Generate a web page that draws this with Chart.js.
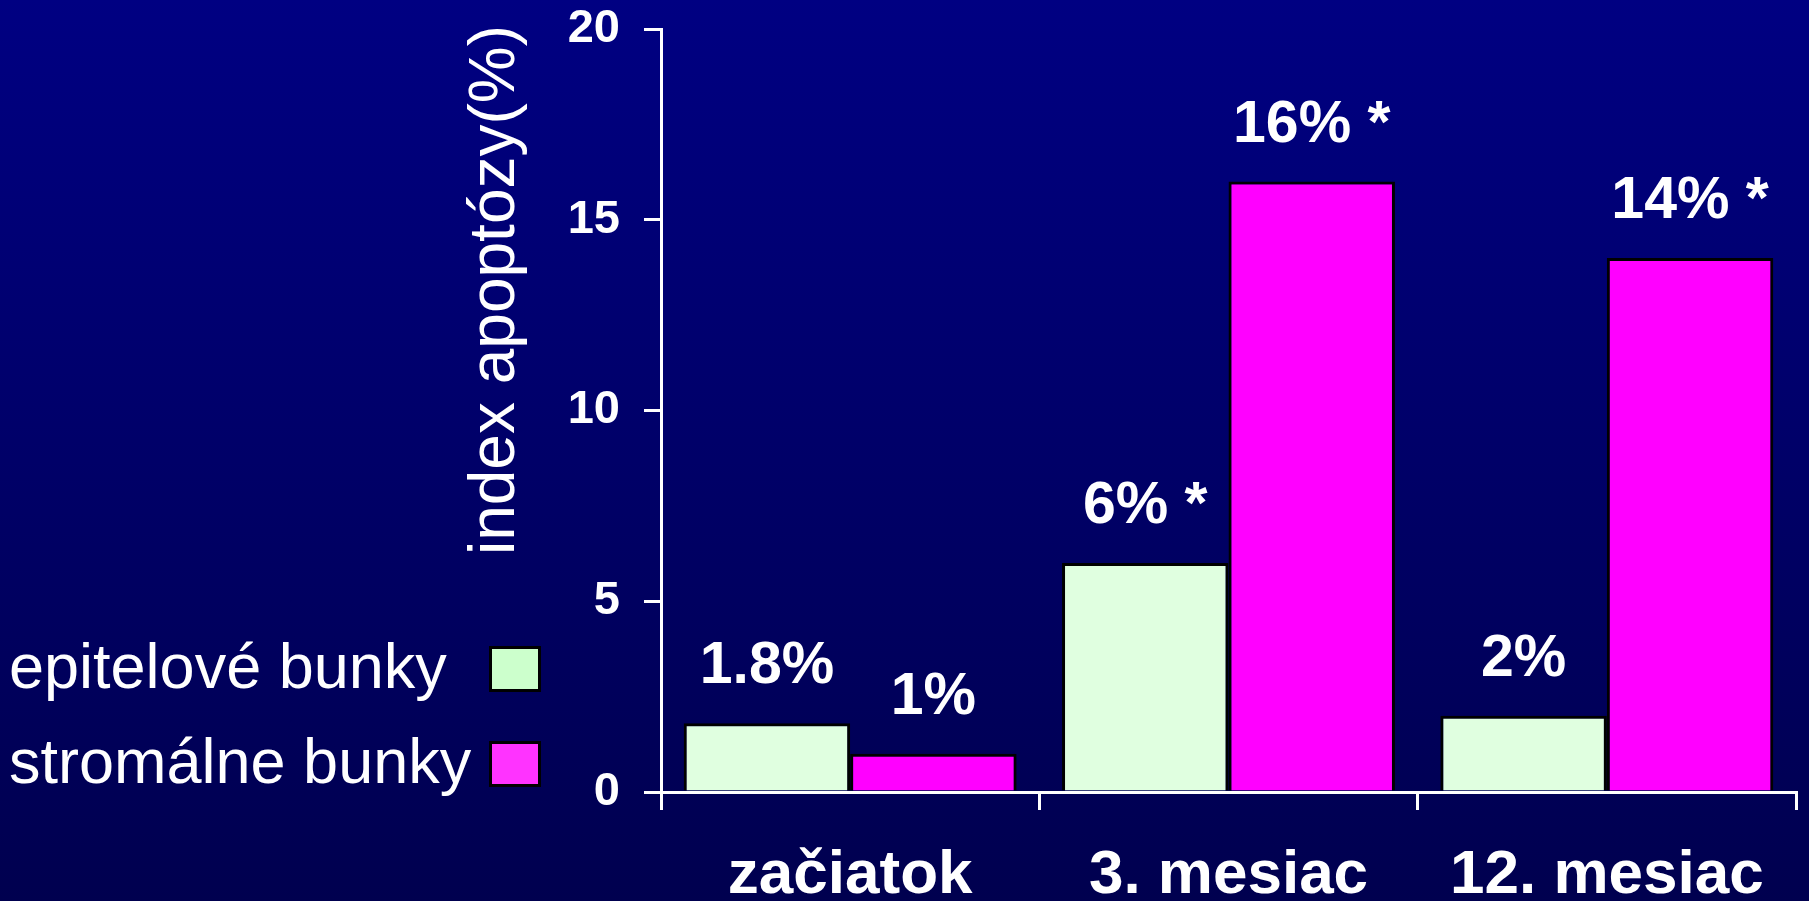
<!DOCTYPE html>
<html>
<head>
<meta charset="utf-8">
<script src="https://cdn.jsdelivr.net/npm/chart.js@4/dist/chart.umd.min.js"></script>
<style>
  html, body { margin: 0; padding: 0; }
  #wrap {
    width: 1809px;
    height: 901px;
    background: linear-gradient(to bottom, #000082, #00004f);
  }
</style>
</head>
<body>
<div id="wrap"><canvas id="myChart"></canvas></div>
<script>
// data
const categories = ['začiatok', '3. mesiac', '12. mesiac'];
const seriesNames = ['epitelové bunky', 'stromálne bunky'];
const epitelove = [1.8, 6, 2];
const stromalne = [1, 16, 14];
// significant differences get an asterisk after the value
const epitelSig = [false, true, false];
const stromaSig = [false, true, true];
const yMax = 20;
const yStep = 5;
const axisTitle = 'index apoptózy(%)';

const FONT = '"Liberation Sans", Arial, Helvetica, sans-serif';

function valueLabels(values, sig) {
    return values.map((v, i) => v + '%' + (sig[i] ? ' *' : ''));
}

// labels above bars, rotated axis title and the legend on the left
const decor = {
    id: 'decor',
    afterDatasetsDraw(chart) {
        const ctx = chart.ctx;
        ctx.save();
        ctx.fillStyle = '#ffffff';
        ctx.font = 'bold 59px ' + FONT;
        ctx.textAlign = 'center';
        ctx.textBaseline = 'alphabetic';
        chart.data.datasets.forEach((ds, i) => {
            chart.getDatasetMeta(i).data.forEach((bar, j) => {
                ctx.fillText(ds.valueLabels[j], bar.x, bar.y - 40);
            });
        });
        ctx.restore();
    },
    afterDraw(chart) {
        const ctx = chart.ctx;
        ctx.save();
        ctx.fillStyle = '#ffffff';
        ctx.font = '64px ' + FONT;
        ctx.textAlign = 'center';
        ctx.textBaseline = 'alphabetic';
        ctx.translate(514, 290);
        ctx.rotate(-Math.PI / 2);
        ctx.fillText(axisTitle, 0, 0);
        ctx.restore();

        ctx.save();
        ctx.font = '63px ' + FONT;
        ctx.textAlign = 'left';
        ctx.textBaseline = 'alphabetic';
        chart.data.datasets.forEach((ds, i) => {
            const base = 688 + i * 95;
            ctx.fillStyle = '#ffffff';
            ctx.fillText(ds.label, 9, base);
            ctx.fillStyle = ds.legendColor;
            ctx.fillRect(490, base - 42, 50, 45);
            ctx.lineWidth = 3;
            ctx.strokeStyle = '#000000';
            ctx.strokeRect(490.5, base - 40.5, 49, 43);
        });
        ctx.restore();
    }
};

var ctx = document.getElementById('myChart').getContext('2d');
var chart = new Chart(ctx, {
    type: 'bar',
    data: {
        labels: categories,
        datasets: [{
                label: seriesNames[0],
                data: epitelove,
                valueLabels: valueLabels(epitelove, epitelSig),
                backgroundColor: '#e0ffe0',
                legendColor: '#ccffcc',
                borderColor: '#000000',
                borderWidth: 3,
                borderSkipped: 'bottom'
            },
            {
                label: seriesNames[1],
                data: stromalne,
                valueLabels: valueLabels(stromalne, stromaSig),
                backgroundColor: '#ff00ff',
                legendColor: '#ff33ff',
                borderColor: '#000000',
                borderWidth: 3,
                borderSkipped: 'bottom'
            }
        ]
    },
    options: {
        responsive: true,
        maintainAspectRatio: false,
        animation: false,
        layout: {
            padding: { left: 0, right: 13, top: 29, bottom: 0 }
        },
        datasets: {
            bar: {
                categoryPercentage: 0.88,
                barPercentage: 1.0
            }
        },
        plugins: {
            legend: { display: false },
            tooltip: { enabled: false }
        },
        scales: {
            x: {
                afterFit(scale) { scale.height = 109; },
                border: { display: true, color: '#ffffff', width: 3 },
                grid: {
                    offset: true,
                    drawOnChartArea: false,
                    drawTicks: true,
                    tickLength: 18,
                    color: '#ffffff',
                    lineWidth: 3
                },
                ticks: {
                    color: '#ffffff',
                    padding: 29,
                    maxRotation: 0,
                    font: { family: FONT, size: 62, weight: 'bold' }
                }
            },
            y: {
                min: 0,
                max: yMax,
                afterFit(scale) {
                    // the layout padding already leaves room for the top label
                    scale.width = 661;
                    scale.paddingTop = 0;
                },
                border: { display: true, color: '#ffffff', width: 3 },
                grid: {
                    drawOnChartArea: false,
                    drawTicks: true,
                    tickLength: 17,
                    color: '#ffffff',
                    lineWidth: 3
                },
                ticks: {
                    stepSize: yStep,
                    color: '#ffffff',
                    padding: 24,
                    font: { family: FONT, size: 47, weight: 'bold' }
                }
            }
        }
    },
    plugins: [decor]
});
</script>
</body>
</html>
